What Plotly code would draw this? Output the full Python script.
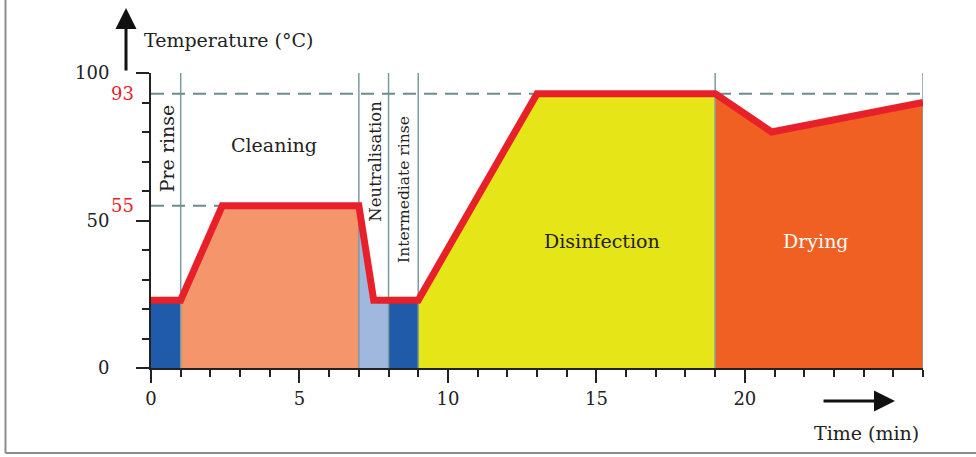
import numpy as np
import plotly.graph_objects as go

# ---------------- data ----------------
time_min = [0, 1, 2.4, 7, 7.5, 9, 13, 19, 20.9, 26]
temp_c = [23, 23, 55, 55, 23, 23, 93, 93, 80, 90]

phase_edges = [0, 1, 7, 8, 9, 19, 26]
phase_colors = ["#1f5ba8", "#f4956c", "#a0b8de", "#1f5ba8", "#e5e517", "#f06023"]

x_tick_vals = [0, 5, 10, 15, 20]
x_tick_text = ["0", "5", "10", "15", "20"]
y_tick_vals = [0, 50, 100]
y_tick_text = ["0", "50", "100"]

ref_temps = [93, 55]
ref_labels = ["93", "55"]

phase_labels = ["Pre rinse", "Cleaning", "Neutralisation", "Intermediate rinse",
                "Disinfection", "Drying"]
# label placement (x, y, angle, size, colour)
label_style = [
    (0.54, 74.5, -90, 19, "#222222"),
    (4.15, 75.5, 0, 19, "#222222"),
    (7.55, 70, -90, 16.5, "#222222"),
    (8.5, 60.5, -90, 15.5, "#222222"),
    (15.2, 43, 0, 19, "#222222"),
    (22.4, 43, 0, 19, "#ffffff"),
]

FONT = "DejaVu Serif"
GRID_C = "#7c9aa0"
DASH_C = "#6c8b91"
RED = "#e8202a"

fig = go.Figure()

# phase fills
for i in range(len(phase_edges) - 1):
    a, b = phase_edges[i], phase_edges[i + 1]
    xs = [a] + [t for t in time_min if a < t < b] + [b]
    ys = list(np.interp(xs, time_min, temp_c))
    fig.add_trace(go.Scatter(x=xs, y=ys, mode="lines", fill="tozeroy",
                             fillcolor=phase_colors[i], line=dict(width=0),
                             hoverinfo="skip", showlegend=False))

# vertical phase boundaries
vx, vy = [], []
for e in phase_edges[1:]:
    vx += [e, e, None]
    vy += [0, 100, None]
fig.add_trace(go.Scatter(x=vx, y=vy, mode="lines", line=dict(color=GRID_C, width=1.5),
                         hoverinfo="skip", showlegend=False))

# dashed reference lines
t93_end = phase_edges[-1]
t55_end = float(np.interp(55, temp_c[1:3], time_min[1:3]))
fig.add_trace(go.Scatter(x=[0, t93_end, None, 0, t55_end], y=[93, 93, None, 55, 55],
                         mode="lines", line=dict(color=DASH_C, width=2, dash="13px,8px"),
                         hoverinfo="skip", showlegend=False))

# temperature curve
fig.add_trace(go.Scatter(x=time_min, y=temp_c, mode="lines",
                         line=dict(color=RED, width=7), showlegend=False))

annotations = []
for name, (x, y, ang, size, col) in zip(phase_labels, label_style):
    annotations.append(dict(x=x, y=y, xref="x", yref="y", text=name, showarrow=False,
                            textangle=ang, font=dict(family=FONT, size=size, color=col)))

for v, t in zip(ref_temps, ref_labels):
    annotations.append(dict(x=-0.037, y=v, xref="paper", yref="y", text=t, showarrow=False,
                            xanchor="center", yanchor="middle",
                            font=dict(family=FONT, size=18, color=RED)))

# axis titles & arrows (paper coords: plot area 151..923 x, 73..368 y px)
def px_x(p):
    return (p - 151) / 772.0

def px_y(p):
    return (368 - p) / 295.0

annotations += [
    dict(x=px_x(126), y=px_y(8), xref="paper", yref="paper", ax=0, ay=64,
         showarrow=True, arrowhead=2, arrowsize=1.4, arrowwidth=3, arrowcolor="#111111", text=""),
    dict(x=px_x(895), y=px_y(401), xref="paper", yref="paper", ax=-73, ay=0,
         showarrow=True, arrowhead=2, arrowsize=1.4, arrowwidth=3, arrowcolor="#111111", text=""),
    dict(x=px_x(142), y=px_y(40), xref="paper", yref="paper", xanchor="left", yanchor="middle",
         text="Temperature (°C)", showarrow=False, font=dict(family=FONT, size=19, color="#222222")),
    dict(x=px_x(921), y=px_y(433), xref="paper", yref="paper", xanchor="right", yanchor="middle",
         text="Time (min)", showarrow=False, font=dict(family=FONT, size=19, color="#222222")),
]

shapes = [
    dict(type="line", xref="paper", yref="paper", x0=px_x(5.5), x1=px_x(5.5), y0=px_y(0), y1=px_y(453),
         line=dict(color="#8c8c8c", width=2)),
    dict(type="line", xref="paper", yref="paper", x0=px_x(5.5), x1=px_x(976), y0=px_y(453), y1=px_y(453),
         line=dict(color="#8c8c8c", width=2)),
]

fig.update_layout(
    width=976, height=457,
    margin=dict(l=151, r=53, t=73, b=89),
    plot_bgcolor="white", paper_bgcolor="white",
    annotations=annotations, shapes=shapes,
    showlegend=False,
    font=dict(family=FONT, size=18, color="#222222"),
)
fig.update_xaxes(range=[0, 26], showgrid=False, zeroline=False, showline=True,
                 linecolor="#222222", linewidth=2,
                 tickvals=x_tick_vals, ticktext=x_tick_text, ticks="outside", ticklen=13,
                 tickwidth=2, tickcolor="#222222",
                 minor=dict(dtick=1, ticks="outside", ticklen=7, tickwidth=2, tickcolor="#222222"),
                 tickfont=dict(family=FONT, size=18, color="#222222"))
fig.update_yaxes(range=[0, 100], showgrid=False, zeroline=False, showline=True,
                 linecolor="#222222", linewidth=2,
                 tickvals=y_tick_vals, ticktext=y_tick_text, ticks="outside", ticklen=13,
                 tickwidth=2, tickcolor="#222222", ticklabelstandoff=23,
                 minor=dict(dtick=10, ticks="outside", ticklen=7, tickwidth=2, tickcolor="#222222"),
                 tickfont=dict(family=FONT, size=18, color="#222222"))

fig.write_html("out.html", config={"displayModeBar": False},
               post_script="document.body.style.margin='0px';")
